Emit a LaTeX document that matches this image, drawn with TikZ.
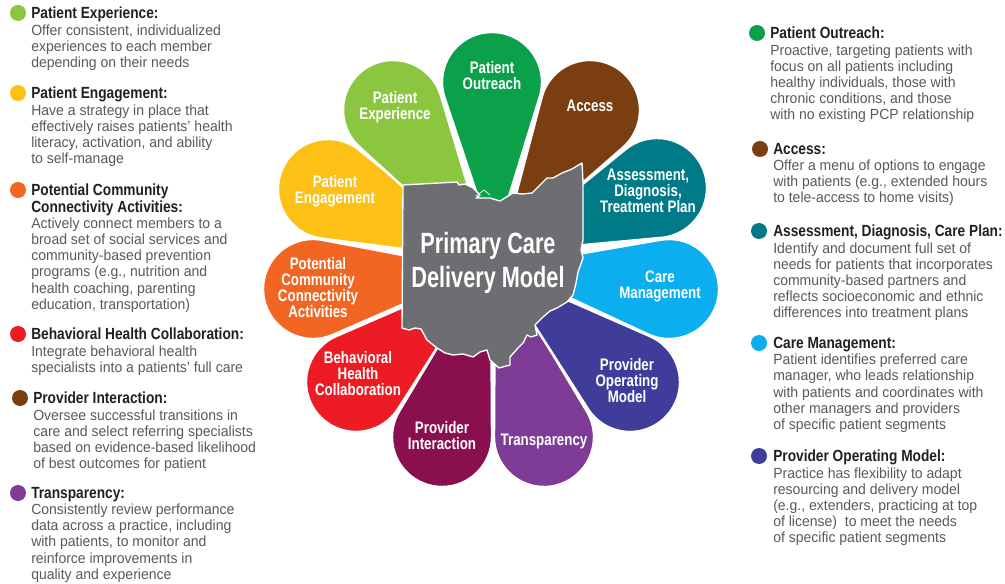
\documentclass[tikz,border=0pt]{standalone}
\usepackage{fontspec}
\setmainfont{Liberation Sans}
\newfontfamily\bodyf[FakeStretch=0.955]{Liberation Sans}
\newfontfamily\headf[FakeStretch=0.85]{Liberation Sans}
\newfontfamily\labf[FakeStretch=0.8]{Liberation Sans}
\newfontfamily\titlef[FakeStretch=0.74]{Liberation Sans}
\definecolor{cOut}{HTML}{0BA14B}
\definecolor{cExp}{HTML}{8CC63F}
\definecolor{cAcc}{HTML}{7A3E10}
\definecolor{cAss}{HTML}{007A87}
\definecolor{cCare}{HTML}{0BAEEF}
\definecolor{cOp}{HTML}{3F3D99}
\definecolor{cTra}{HTML}{7E3C97}
\definecolor{cInt}{HTML}{8A0F4E}
\definecolor{cBeh}{HTML}{ED1C24}
\definecolor{cPot}{HTML}{F26522}
\definecolor{cEng}{HTML}{FDC014}
\definecolor{ohio}{HTML}{6D6E71}
\definecolor{bodytext}{HTML}{58595B}
\definecolor{headtext}{HTML}{231F20}
\newcommand{\hd}[1]{{\headf\bfseries\fontsize{12.1}{12.15}\selectfont\color{headtext}#1}}
\newcommand{\petal}[6]{%
  \pgfmathsetmacro\pth{atan2(#5-#2,#4-#1)}%
  \pgfmathsetmacro\pd{veclen(#4-#1,#5-#2)}%
  \pgfmathsetmacro\pph{acos(#3/\pd)}%
  \pgfmathsetmacro\pa{\pth+\pph}%
  \pgfmathsetmacro\pb{\pth-\pph+360}%
  \draw[petalshape,fill=#6] (#4,#5) -- ({#1+#3*cos(\pa)},{#2+#3*sin(\pa)}) arc[start angle=\pa,end angle=\pb,radius=#3] -- cycle;}
\tikzset{
  petalshape/.style={draw=white,line width=1.8pt,line join=round},
  plabel/.style={font=\labf\bfseries\fontsize{12.5}{12}\selectfont,text=white,align=center,inner sep=0pt},
  dotmark/.style={circle,minimum size=12pt,inner sep=0pt,fill=#1},
  desc/.style={anchor=north west,inner sep=0pt,align=left,text=bodytext,font=\bodyf\fontsize{11}{12.15}\selectfont},
}
\begin{document}
\begin{tikzpicture}[x=0.75pt,y=0.75pt,yscale=-1]
\useasboundingbox (0,0) rectangle (1005,584);
% petals
\petal{328}{189}{50}{497}{261}{cEng}
\petal{313}{289}{50}{482}{270}{cPot}
\petal{356}{382}{50}{486}{271}{cBeh}
\petal{442}{437}{50}{491}{258}{cInt}
\petal{544}{437}{50}{495}{258}{cTra}
\petal{630}{382}{50}{499}{270}{cOp}
\petal{669}{289}{50}{503}{267}{cCare}
\petal{657}{188}{50}{498}{253}{cAss}
\petal{393}{110}{50}{493}{269}{cExp}
\petal{590}{110}{50}{500}{255}{cAcc}
\petal{492}{82}{50}{494}{245}{cOut}
% Ohio
\draw[fill=ohio,draw=white,line width=1pt,line join=round]
 (403,185) -- (457,182) -- (459,185) -- (465,184) -- (473,188) -- (480,195) -- (476,198) -- (490,198) -- (500,201)
 -- (513,193) -- (522,194) -- (532,193) -- (540,185) -- (547,178) -- (553,178) -- (562,173) -- (572,169) -- (582,163)
 -- (583,182) -- (583,240) -- (581,250) -- (583,258) -- (578,272) -- (576,283) -- (573,295) -- (567,302) -- (557,308)
 -- (550,311) -- (543,317) -- (535,325) -- (537,335) -- (531,337) -- (527,335) -- (523,343) -- (518,348) -- (510,357)
 -- (510,365) -- (499,368) -- (490,360) -- (487,350) -- (480,352) -- (473,357) -- (463,354) -- (453,355) -- (445,353)
 -- (437,348) -- (427,340) -- (421,329) -- (415,328) -- (409,330) -- (402,328) -- cycle;
\draw[white,line width=.5pt] (476,196) -- (484,190) -- (490,195);
% centre title
\node[font=\titlef\bfseries\fontsize{22}{25.5}\selectfont,text=white,align=center,inner sep=0pt] (title) at (488,263) {Primary Care\\Delivery Model};
% petal labels
\node[plabel] (lOut) at (492,76) {Patient\\Outreach};
\node[plabel] (lExp) at (395,107) {Patient\\Experience};
\node[plabel] (lAcc) at (590,106) {Access};
\node[plabel] (lAss) at (648,191) {Assessment,\\Diagnosis,\\Treatment Plan};
\node[plabel] (lEng) at (335,191) {Patient\\Engagement};
\node[plabel] (lCare) at (660,286) {Care\\Management};
\node[plabel] (lPot) at (318,288) {Potential\\Community\\Connectivity\\Activities};
\node[plabel] (lBeh) at (358,374) {Behavioral\\Health\\Collaboration};
\node[plabel] (lInt) at (442,436) {Provider\\Interaction};
\node[plabel] (lTra) at (544,441) {Transparency};
\node[plabel] (lOp) at (627,381) {Provider\\Operating\\Model};
% left column
\node[dotmark=cExp] (d1) at (18,13) {};
\node[desc] (t1) at (31,7) {\hd{Patient Experience:}\\Offer consistent, individualized\\experiences to each member\\depending on their needs};
\node[dotmark=cEng] (d2) at (18,93) {};
\node[desc] (t2) at (31,87) {\hd{Patient Engagement:}\\Have a strategy in place that\\effectively raises patients’ health\\literacy, activation, and ability\\to self-manage};
\node[dotmark=cPot] (d3) at (18,190) {};
\node[desc] (t3) at (31,184) {\hd{Potential Community}\\\hd{Connectivity Activities:}\\Actively connect members to a\\broad set of social services and\\community-based prevention\\programs (e.g., nutrition and\\health coaching, parenting\\education, transportation)};
\node[dotmark=cBeh] (d4) at (18,334) {};
\node[desc] (t4) at (31,328) {\hd{Behavioral Health Collaboration:}\\Integrate behavioral health\\specialists into a patients’ full care};
\node[dotmark=cAcc] (d5) at (20,398) {};
\node[desc] (t5) at (33,392) {\hd{Provider Interaction:}\\Oversee successful transitions in\\care and select referring specialists\\based on evidence-based likelihood\\of best outcomes for patient};
\node[dotmark=cTra] (d6) at (18,493) {};
\node[desc] (t6) at (31,487) {\hd{Transparency:}\\Consistently review performance\\data across a practice, including\\with patients, to monitor and\\reinforce improvements in\\quality and experience};
% right column
\node[dotmark=cOut] (d7) at (757,33) {};
\node[desc] (t7) at (770,27) {\hd{Patient Outreach:}\\Proactive, targeting patients with\\focus on all patients including\\healthy individuals, those with\\chronic conditions, and those\\with no existing PCP relationship};
\node[dotmark=cAcc] (d8) at (760,149) {};
\node[desc] (t8) at (773,143) {\hd{Access:}\\Offer a menu of options to engage\\with patients (e.g., extended hours\\to tele-access to home visits)};
\node[dotmark=cAss] (d9) at (759,231) {};
\node[desc] (t9) at (773,225) {\hd{Assessment, Diagnosis, Care Plan:}\\Identify and document full set of\\needs for patients that incorporates\\community-based partners and\\reflects socioeconomic and ethnic\\differences into treatment plans};
\node[dotmark=cCare] (d10) at (759,343) {};
\node[desc] (t10) at (773,337) {\hd{Care Management:}\\Patient identifies preferred care\\manager, who leads relationship\\with patients and coordinates with\\other managers and providers\\of specific patient segments};
\node[dotmark=cOp] (d11) at (759,456) {};
\node[desc] (t11) at (773,450) {\hd{Provider Operating Model:}\\Practice has flexibility to adapt\\resourcing and delivery model\\(e.g., extenders, practicing at top\\of license)\ \ to meet the needs\\of specific patient segments};
\end{tikzpicture}
\end{document}
